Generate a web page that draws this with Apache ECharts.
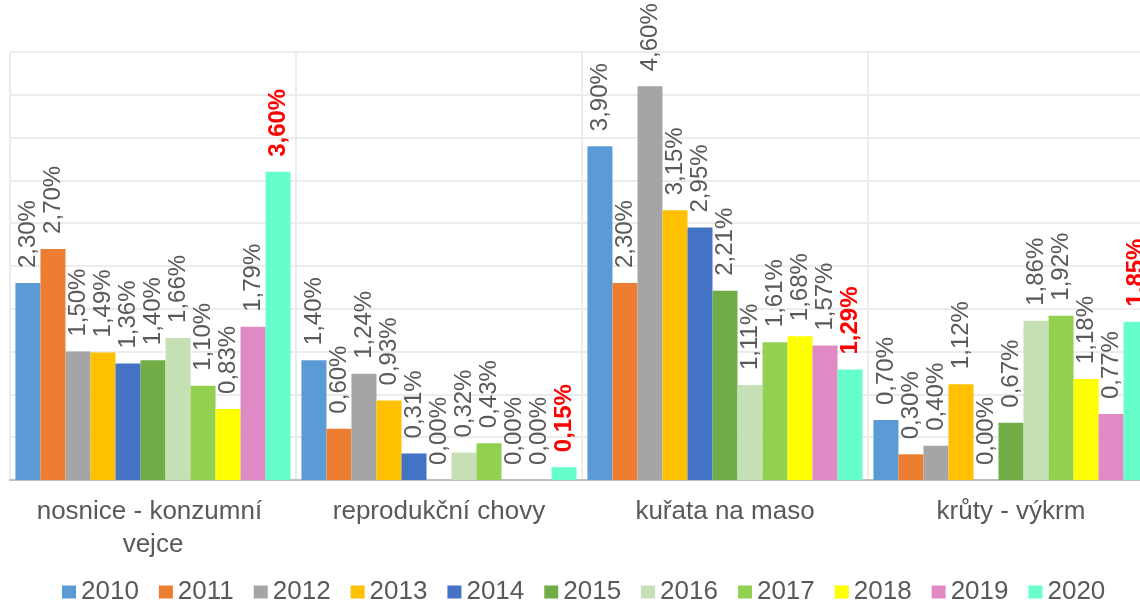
<!DOCTYPE html>
<html>
<head>
<meta charset="utf-8">
<script src="https://cdn.jsdelivr.net/npm/echarts@6/dist/echarts.min.js"></script>
<style>
html,body{margin:0;padding:0;background:#fff;}
#chart{width:1140px;height:602px;}
</style>
</head>
<body>
<div id="chart"></div>
<script>
const categories = ['nosnice - konzumní vejce', 'reprodukční chovy', 'kuřata na maso', 'krůty - výkrm'];
const years = ['2010','2011','2012','2013','2014','2015','2016','2017','2018','2019','2020'];
const v2010 = [2.30, 1.40, 3.90, 0.70];
const v2011 = [2.70, 0.60, 2.30, 0.30];
const v2012 = [1.50, 1.24, 4.60, 0.40];
const v2013 = [1.49, 0.93, 3.15, 1.12];
const v2014 = [1.36, 0.31, 2.95, 0.00];
const v2015 = [1.40, 0.00, 2.21, 0.67];
const v2016 = [1.66, 0.32, 1.11, 1.86];
const v2017 = [1.10, 0.43, 1.61, 1.92];
const v2018 = [0.83, 0.00, 1.68, 1.18];
const v2019 = [1.79, 0.00, 1.57, 0.77];
const v2020 = [3.60, 0.15, 1.29, 1.85];
const seriesValues = [v2010, v2011, v2012, v2013, v2014, v2015, v2016, v2017, v2018, v2019, v2020];
const colors = ['#5B9BD5','#ED7D31','#A5A5A5','#FFC000','#4472C4','#70AD47','#C5E0B4','#92D050','#FFFF00','#DF8AC4','#66FFCC'];

const FONT = '"Liberation Sans", Arial, sans-serif';
const fmt = p => p.value.toFixed(2).replace('.', ',') + '%';

const chart = echarts.init(document.getElementById('chart'));
chart.setOption({
  animation: false,
  color: colors,
  grid: { left: 10, top: 52, width: 1144, bottom: 122, containLabel: false, outerBoundsMode: 'none' },
  xAxis: {
    type: 'category',
    data: categories,
    axisTick: { show: false },
    axisLine: { lineStyle: { color: '#bfbfbf', width: 2 } },
    splitLine: { show: true, interval: 0, lineStyle: { color: '#ececec', width: 2 } },
    axisLabel: {
      interval: 0, margin: 15, color: '#595959', fontSize: 26, fontFamily: FONT,
      lineHeight: 33, width: 280, overflow: 'break'
    }
  },
  yAxis: {
    type: 'value', min: 0, max: 5, interval: 0.5,
    axisLabel: { show: false }, axisLine: { show: false }, axisTick: { show: false },
    splitLine: { lineStyle: { color: '#ececec', width: 2 } }
  },
  legend: {
    bottom: -8, left: 57, icon: 'rect', itemWidth: 14, itemHeight: 13, itemGap: 20,
    textStyle: { color: '#595959', fontSize: 26, fontFamily: FONT },
    data: years
  },
  series: seriesValues.map((vals, i) => ({
    name: years[i],
    type: 'bar',
    data: vals,
    barGap: '0%',
    barCategoryGap: '3.8%',
    itemStyle: { color: colors[i] },
    label: {
      show: true, position: 'top', rotate: 90, align: 'left', verticalAlign: 'middle',
      distance: 15, formatter: fmt, fontFamily: FONT,
      fontSize: 24,
      color: i === 10 ? '#FF0000' : '#595959',
      fontWeight: i === 10 ? 'bold' : 'normal'
    }
  }))
});
</script>
</body>
</html>
